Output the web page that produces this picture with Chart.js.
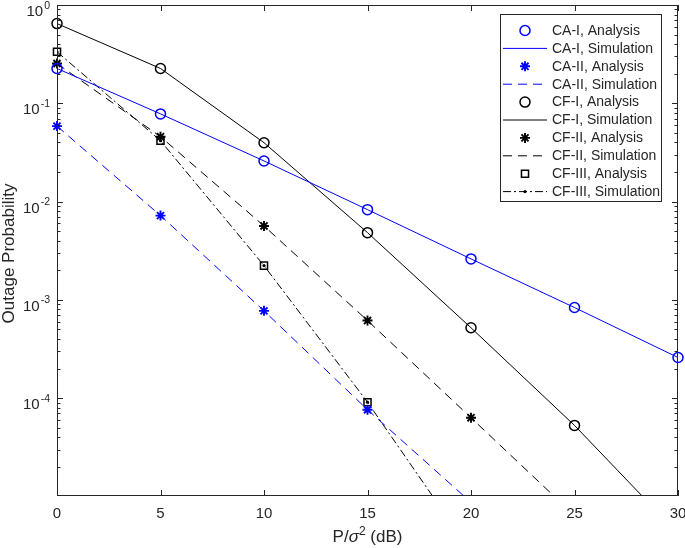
<!DOCTYPE html>
<html>
<head>
<meta charset="utf-8">
<script src="https://cdn.jsdelivr.net/npm/chart.js@4/dist/chart.umd.min.js"></script>
<style>
  html, body { margin: 0; padding: 0; background: #fff; }
  canvas { display: block; }
</style>
</head>
<body>
<canvas id="outageChart" width="685" height="548"></canvas>
<script>
// x values (dB)
const snrDb = [0, 5, 10, 15, 20, 25, 30];

const caIAnalysis = [0.226, 0.078, 0.0259, 0.00828, 0.00261, 8.35e-4, 2.59e-4];
const caISimulation = [0.226, 0.078, 0.0259, 0.00828, 0.00261, 8.35e-4, 2.59e-4];
const caIIAnalysis = [0.0586, 0.0072, 7.73e-4, 7.62e-5];
const caIISimulation = [0.0586, 0.0072, 7.73e-4, 7.62e-5, 8.7e-6];
const cfIAnalysis = [0.647, 0.226, 0.0397, 0.00483, 5.2e-4, 5.28e-5];
const cfISimulation = [0.647, 0.226, 0.0397, 0.00483, 5.2e-4, 5.28e-5, 4.2e-6];
const cfIIAnalysis = [0.254, 0.0457, 0.00565, 6.16e-4, 6.32e-5];
const cfIISimulation = [0.254, 0.0457, 0.00565, 6.16e-4, 6.32e-5, 6.4e-6];
const cfIIIAnalysis = [0.334, 0.0416, 0.00223, 9.1e-5];
const cfIIISimulation = [0.334, 0.0416, 0.00223, 9.1e-5, 2.75e-6];

// tick labels
const xTicks = [0, 5, 10, 15, 20, 25, 30];
const yTickExps = [0, -1, -2, -3, -4];

const FONT = '"Liberation Sans", Arial, Helvetica, sans-serif';
const AXIS_COLOR = '#262626';
const BLUE = '#0000ff';
const BLACK = '#000000';

const pts = vals => vals.map((v, i) => ({ x: snrDb[i], y: v }));

function markers(label, vals, color, style, radius, width) {
    return {
        label: label,
        data: pts(vals),
        showLine: false,
        pointStyle: style,
        pointRadius: radius,
        pointBorderWidth: width,
        pointBorderColor: color,
        pointBackgroundColor: 'rgba(0,0,0,0)',
        borderColor: color,
        clip: false
    };
}

function simLine(label, vals, color, dash, dot) {
    return {
        label: label,
        data: pts(vals),
        borderColor: color,
        borderWidth: 1,
        borderDash: dash,
        pointRadius: dot ? 1.6 : 0,
        pointStyle: 'circle',
        pointBackgroundColor: color,
        pointBorderColor: color,
        pointBorderWidth: 0,
        tension: 0,
        fill: false,
        clip: 0
    };
}

const DASH = [9, 6];
const DASH_DOT = [8, 3, 2, 3];

// axes box, inward ticks, tick labels, titles and the legend
const axesBox = {
    id: 'axesBox',
    afterDraw(chart) {
        const { ctx, chartArea: a, scales: { x, y } } = chart;
        ctx.save();
        ctx.strokeStyle = AXIS_COLOR;
        ctx.lineWidth = 1;
        ctx.strokeRect(a.left + 0.5, a.top + 0.5, a.right - a.left - 1, a.bottom - a.top - 1);

        ctx.beginPath();
        xTicks.forEach(t => {
            const px = Math.round(x.getPixelForValue(t)) + 0.5;
            ctx.moveTo(px, a.bottom); ctx.lineTo(px, a.bottom - 6);
            ctx.moveTo(px, a.top); ctx.lineTo(px, a.top + 6);
        });
        for (let e = -5; e <= 0; e++) {
            for (let m = 1; m <= 9; m++) {
                const v = m * Math.pow(10, e);
                if (v < y.min || v > y.max * 1.0001) continue;
                const py = Math.round(y.getPixelForValue(v)) + 0.5;
                const len = m === 1 ? 6 : 3.5;
                ctx.moveTo(a.left, py); ctx.lineTo(a.left + len, py);
                ctx.moveTo(a.right, py); ctx.lineTo(a.right - len, py);
            }
        }
        ctx.stroke();

        ctx.fillStyle = AXIS_COLOR;
        ctx.font = '15px ' + FONT;
        ctx.textAlign = 'center';
        ctx.textBaseline = 'alphabetic';
        xTicks.forEach(t => ctx.fillText(String(t), x.getPixelForValue(t), 518));

        yTickExps.forEach(e => {
            const py = y.getPixelForValue(Math.pow(10, e));
            const sup = e === 0 ? '0' : '-' + Math.abs(e);
            ctx.font = '10.5px ' + FONT;
            const wSup = ctx.measureText(sup).width;
            ctx.font = '15px ' + FONT;
            const wBase = ctx.measureText('10').width;
            const right = a.left - 7;
            ctx.textAlign = 'left';
            ctx.fillText('10', right - wSup - 1 - wBase, py + 11);
            ctx.font = '10.5px ' + FONT;
            ctx.fillText(sup, right - wSup, py + 3.5);
        });

        // x title: P/σ² (dB)
        const cx = (a.left + a.right) / 2;
        const parts = [
            { t: 'P/', f: '17px ' + FONT, dy: 0 },
            { t: 'σ', f: 'italic 17px ' + FONT, dy: 0 },
            { t: '2', f: '12px ' + FONT, dy: -7.5 },
            { t: ' (dB)', f: '17px ' + FONT, dy: 0 }
        ];
        let total = 0;
        parts.forEach(p => { ctx.font = p.f; p.w = ctx.measureText(p.t).width; total += p.w; });
        let tx = cx - total / 2;
        ctx.textAlign = 'left';
        parts.forEach(p => { ctx.font = p.f; ctx.fillText(p.t, tx, 542 + p.dy); tx += p.w; });

        // y title
        ctx.save();
        ctx.translate(14, (a.top + a.bottom) / 2 + 3);
        ctx.rotate(-Math.PI / 2);
        ctx.textAlign = 'center';
        ctx.font = '17px ' + FONT;
        ctx.fillText('Outage Probability', 0, 0);
        ctx.restore();

        // legend
        const lx = 500.5, ly = 14.5, lw = 161, lh = 187;
        ctx.fillStyle = '#fff';
        ctx.fillRect(lx, ly, lw, lh);
        ctx.strokeStyle = AXIS_COLOR;
        ctx.lineWidth = 1;
        ctx.strokeRect(lx, ly, lw, lh);
        ctx.font = '14px ' + FONT;
        ctx.textBaseline = 'middle';
        chart.data.datasets.forEach((ds, i) => {
            const cy = 30.5 + i * 17.9;
            const color = ds.borderColor;
            ctx.strokeStyle = color;
            ctx.fillStyle = color;
            if (ds.showLine === false) {
                ctx.lineWidth = ds.pointBorderWidth;
                drawMarker(ctx, ds.pointStyle, ds.pointRadius, 525, cy);
            } else {
                ctx.lineWidth = ds.borderWidth;
                ctx.setLineDash(ds.borderDash || []);
                ctx.beginPath();
                ctx.moveTo(503, cy); ctx.lineTo(547, cy);
                ctx.stroke();
                ctx.setLineDash([]);
                if (ds.pointRadius > 0) {
                    ctx.beginPath();
                    ctx.arc(525, cy, ds.pointRadius, 0, Math.PI * 2);
                    ctx.fill();
                }
            }
            ctx.fillStyle = AXIS_COLOR;
            ctx.textAlign = 'left';
            ctx.fillText(ds.label, 552, cy + 0.5);
        });
        ctx.restore();
    }
};

function drawMarker(ctx, style, r, x, y) {
    ctx.beginPath();
    if (style === 'circle') {
        ctx.arc(x, y, r, 0, Math.PI * 2);
    } else if (style === 'rect') {
        const s = r * Math.SQRT1_2;
        ctx.rect(x - s, y - s, 2 * s, 2 * s);
    } else if (style === 'star') {
        for (let k = 0; k < 4; k++) {
            const ang = k * Math.PI / 4;
            ctx.moveTo(x - r * Math.cos(ang), y - r * Math.sin(ang));
            ctx.lineTo(x + r * Math.cos(ang), y + r * Math.sin(ang));
        }
    }
    ctx.stroke();
}

new Chart(document.getElementById('outageChart'), {
    type: 'line',
    data: {
        datasets: [
            markers('CA-I, Analysis', caIAnalysis, BLUE, 'circle', 5, 1.5),
            simLine('CA-I, Simulation', caISimulation, BLUE, [], false),
            markers('CA-II, Analysis', caIIAnalysis, BLUE, 'star', 5, 1.9),
            simLine('CA-II, Simulation', caIISimulation, BLUE, DASH, false),
            markers('CF-I, Analysis', cfIAnalysis, BLACK, 'circle', 5, 1.5),
            simLine('CF-I, Simulation', cfISimulation, BLACK, [], false),
            markers('CF-II, Analysis', cfIIAnalysis, BLACK, 'star', 5, 1.9),
            simLine('CF-II, Simulation', cfIISimulation, BLACK, DASH, false),
            markers('CF-III, Analysis', cfIIIAnalysis, BLACK, 'rect', 5, 1.5),
            simLine('CF-III, Simulation', cfIIISimulation, BLACK, DASH_DOT, true)
        ]
    },
    options: {
        responsive: false,
        animation: false,
        devicePixelRatio: 1,
        events: [],
        layout: {
            autoPadding: false,
            padding: { left: 0, right: 7, top: 5, bottom: 0 }
        },
        scales: {
            x: {
                type: 'linear',
                min: 0,
                max: 30,
                ticks: { display: false },
                grid: { display: false },
                border: { display: false },
                afterFit: s => { s.height = 52; }
            },
            y: {
                type: 'logarithmic',
                min: 1.01e-5,
                max: 1,
                ticks: { display: false },
                grid: { display: false },
                border: { display: false },
                afterFit: s => { s.width = 57; }
            }
        },
        plugins: {
            legend: { display: false },
            tooltip: { enabled: false }
        }
    },
    plugins: [axesBox]
});
</script>
</body>
</html>
